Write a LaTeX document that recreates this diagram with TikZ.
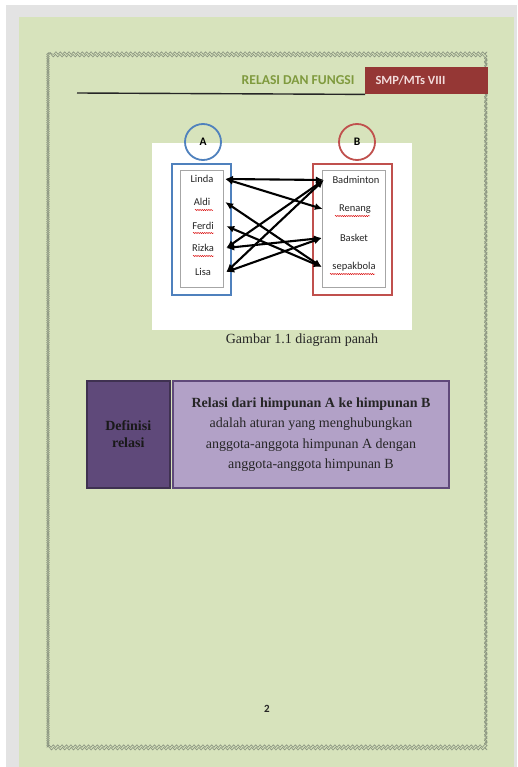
\documentclass[tikz,border=0pt]{standalone}
\usepackage{fontspec}
\setmainfont{Liberation Serif}
\newfontfamily\calibri{Carlito}
\usetikzlibrary{decorations.pathmorphing,arrows.meta}

\definecolor{pagegreen}{HTML}{D7E3BC}
\definecolor{shadowgrey}{HTML}{E3E3E3}
\definecolor{chaingrey}{HTML}{8A9480}
\definecolor{olivetext}{HTML}{7F9A3E}
\definecolor{tagred}{HTML}{953735}
\definecolor{tagpink}{HTML}{F2DBDB}
\definecolor{setblue}{HTML}{4F81BD}
\definecolor{setred}{HTML}{C0504D}
\definecolor{listgrey}{HTML}{A6A6A6}
\definecolor{darkpurple}{HTML}{5F497A}
\definecolor{deeppurple}{HTML}{3F3151}
\definecolor{lightpurple}{HTML}{B2A1C7}

\tikzset{
  chainline/.style={draw=chaingrey, line width=0.65pt,
    decorate, decoration={snake, amplitude=#1, segment length=4.4pt}},
  member/.style={font=\calibri\fontsize{10.5}{12}\selectfont, text=black!85,
    inner sep=0pt, minimum height=10pt},
  leftmember/.style={member, minimum width=46pt},
  rightmember/.style={member, minimum width=64pt},
  setcircle/.style={circle, draw=#1, line width=1.8pt, minimum size=36pt,
    inner sep=0pt, font=\calibri\bfseries\fontsize{11.5}{13}\selectfont},
  setframe/.style={draw=#1, line width=1.8pt},
  listframe/.style={draw=listgrey, line width=0.8pt},
  maparrow/.style={line width=2.1pt, black,
    {Latex[length=8pt,width=7pt]}-{Latex[length=8pt,width=7pt]}},
  spell/.style={draw=red!85!black, line width=0.45pt, decorate,
    decoration={snake, amplitude=0.6pt, segment length=2.2pt}},
  defbody/.style={font=\fontsize{14}{20.3}\selectfont, text=black!85, align=center}
}

\begin{document}
\begin{tikzpicture}[x=1pt,y=-1pt]
\useasboundingbox (0,0) rectangle (517,767);

% sheet and its shadow
\fill[white] (0,0) rectangle (517,767);
\fill[shadowgrey] (6,5) rectangle (517,767);
\fill[pagegreen] (19,17) rectangle (514,767);

% chain page border
\draw[chainline=1.3pt] (48,53) rectangle (486,746);
\draw[chainline=-1.3pt] (48,53) rectangle (486,746);

% running header
\node[anchor=north west, fill=tagred, minimum width=123pt, minimum height=27pt,
      inner sep=0pt] (tag) at (365,67) {};
\node[anchor=west, text=tagpink, font=\calibri\bfseries\fontsize{12.5}{14}\selectfont]
      (tagtext) at (372,80.5) {SMP/MTs VIII};
\node[anchor=east, text=olivetext, font=\calibri\bfseries\fontsize{13.6}{15}\selectfont]
      (title) at (358,80.5) {RELASI DAN FUNGSI};
\coordinate (rulestart) at (77,93);
\draw[line width=1.4pt, black!85] (rulestart) -- (tag.south west);

% arrow diagram panel
\fill[white] (152,143) rectangle (412,330);
\node[setcircle=setblue] (setA) at (203,142) {A};
\node[setcircle=setred] (setB) at (357,142) {B};
\draw[setframe=setblue] (172,164) rectangle (231,295);
\draw[listframe] (180,170) rectangle (223,287);
\draw[setframe=setred] (313,164) rectangle (392,295);
\draw[listframe] (322,170) rectangle (385,287);

\node[leftmember] (linda) at (202,179) {Linda};
\node[leftmember] (aldi)  at (202,202) {Aldi};
\node[leftmember] (ferdi) at (203,226) {Ferdi};
\node[leftmember] (rizka) at (203,248) {Rizka};
\node[leftmember] (lisa)  at (203,272) {Lisa};

\node[rightmember] (badminton) at (356,180) {Badminton};
\node[rightmember] (renang)    at (355,209) {Renang};
\node[rightmember] (basket)    at (354,238) {Basket};
\node[rightmember] (sepakbola) at (354,267) {sepakbola};

% spelling marks under the flagged words
\draw[spell] (195,210) -- (213,210);
\draw[spell] (193,233) -- (214,233);
\draw[spell] (193,256) -- (214,256);
\draw[spell] (335,216) -- (370,216);
\draw[spell] (330,274) -- (375,274);

% relation arrows
\draw[maparrow] (linda.east) -- (badminton.west);
\draw[maparrow] (linda.east) -- (renang.west);
\draw[maparrow] (aldi.east)  -- (sepakbola.west);
\draw[maparrow] (ferdi.east) -- (sepakbola.west);
\draw[maparrow] (rizka.east) -- (badminton.west);
\draw[maparrow] (rizka.east) -- (basket.west);
\draw[maparrow] (lisa.east)  -- (badminton.west);
\draw[maparrow] (lisa.east)  -- (basket.west);

\node[font=\fontsize{14}{16}\selectfont, text=black!85] (caption) at (302,340)
      {Gambar 1.1 diagram panah};

% definition box
\node[draw=deeppurple, line width=1.5pt, fill=darkpurple, anchor=north west,
      minimum width=83pt, minimum height=107pt, inner sep=0pt] (deflabel) at (86,380) {};
\node[font=\bfseries\fontsize{14}{17}\selectfont, text=black!90, align=center]
      (deflabeltext) at (deflabel.center) {Definisi\\relasi};
\node[draw=darkpurple, line width=2pt, fill=lightpurple, anchor=north west,
      minimum width=276pt, minimum height=107pt, inner sep=0pt] (defbox) at (172,380) {};
\node[defbody] (deftext) at (defbox.center)
      {\textbf{Relasi dari himpunan A ke himpunan B}\\
       adalah aturan yang menghubungkan\\
       anggota-anggota himpunan A dengan\\
       anggota-anggota himpunan B};

% page number
\node[font=\calibri\bfseries\fontsize{11}{13}\selectfont, text=black!85] (pagenum)
      at (267,709) {2};
\end{tikzpicture}
\end{document}
